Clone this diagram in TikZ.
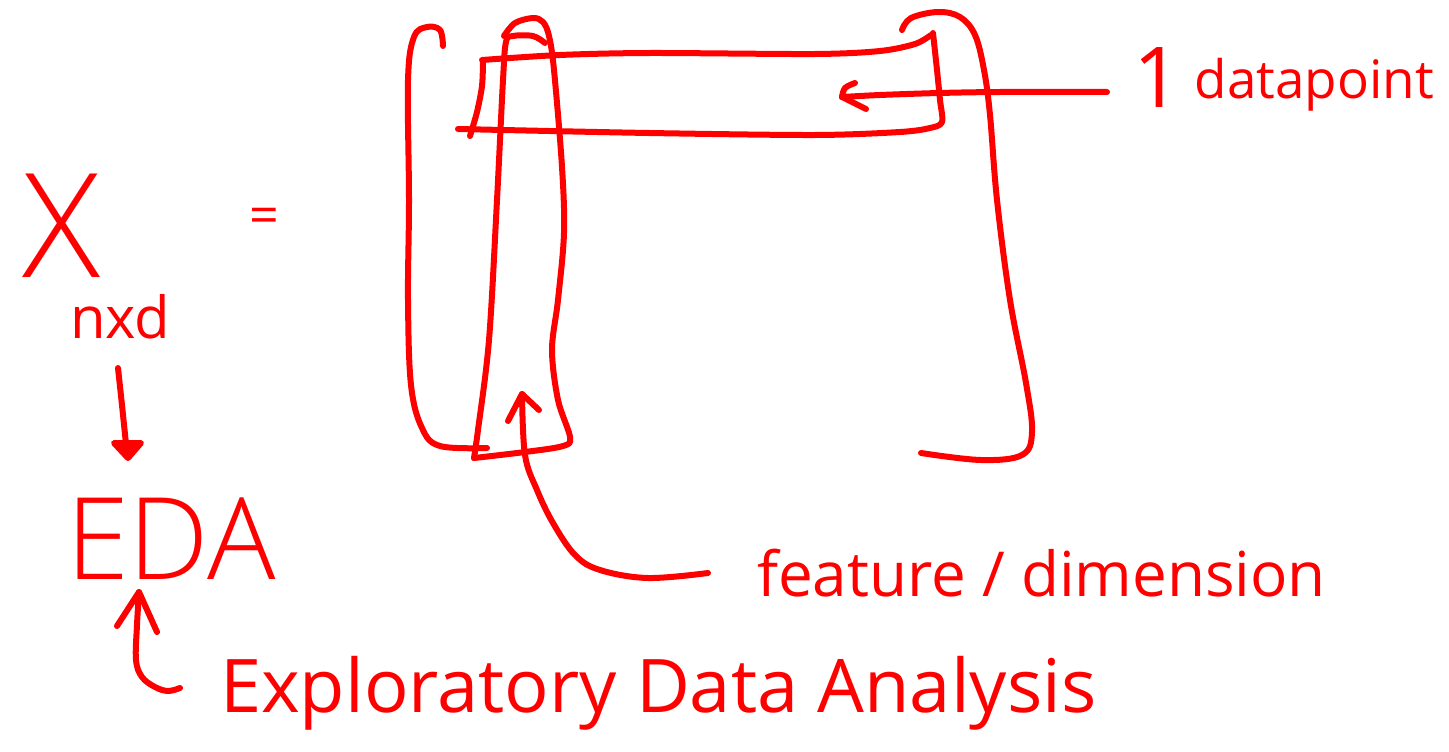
\documentclass[tikz,border=0pt]{standalone}
\usepackage{fontspec}
\setmainfont{Open Sans}
\newfontfamily\thinhand{Open Sans}[UprightFont={* Light}]
\definecolor{pen}{RGB}{255,0,0}
\begin{document}
\begin{tikzpicture}[x=1pt,y=-1pt,
  ink/.style={draw=pen, line width=6pt, line cap=round, line join=round},
  label/.style={text=pen, inner sep=0pt, outer sep=0pt, anchor=base west}]
\useasboundingbox (0,0) rectangle (1449,752);

% ---- matrix symbol and the arrow to EDA ----
\node[label] (xmat) at (22,277) {\thinhand\fontsize{145}{145}\selectfont X};
\node[label] (nxd) at (70,338) {\fontsize{58}{58}\selectfont nxd};
\node[text=pen, inner sep=0pt] (eq) at (264,221) {\fontsize{52}{52}\selectfont =};
\node[label] (eda) at (66,579) {\thinhand\fontsize{114}{114}\selectfont EDA};
\coordinate (edaTail) at (118,368);
\coordinate (edaTip) at (128,458);
\draw[ink] (edaTail) .. controls (122,405) .. (126,444);
\filldraw[ink, fill=pen] (114,443) -- (141,443) -- (edaTip) -- cycle;

% ---- "Exploratory Data Analysis" and its curved arrow ----
\node[label] (expl) at (220,712) {\fontsize{74}{74}\selectfont Exploratory Data Analysis};
\coordinate (cTip) at (139,592);
\coordinate (cTail) at (180,688);
\draw[ink] plot[smooth, tension=0.6] coordinates
  {(cTip) (137,625) (136,660) (142,677) (155,687) (168,691) (cTail)};
\draw[ink] (117,626) -- (cTip) -- (157,632);

% ---- left bracket ----
\draw[ink] plot[smooth, tension=0.6] coordinates
  {(443,46) (440,30) (427,27) (414,37) (408,80) (409,200) (408,300)
   (411,385) (422,428) (440,446) (487,448)};

% ---- right bracket ----
\draw[ink] plot[smooth, tension=0.6] coordinates
  {(902,30) (911,18) (938,12) (960,17) (975,35) (984,70) (990,115)
   (997,200) (1010,300) (1026,383) (1032,432) (1022,455) (981,460) (921,453)};

% ---- one column (feature) ----
\draw[ink] plot[smooth, tension=0.55] coordinates
  {(504,36) (515,23) (533,18) (543,22) (549,36) (554,70) (562,167)
   (564,233) (558,300) (552,350) (558,400) (570,437) (563,446)
   (525,452) (474,458)};
\draw[ink] plot[smooth, tension=0.55] coordinates
  {(474,458) (478,430) (489,340) (497,200) (503,80) (506,42)
   (513,36) (533,36) (545,43)};

% ---- one row (datapoint) ----
\draw[ink] plot[smooth, tension=0.5] coordinates
  {(470,136) (477,112) (482,86) (483,62)};
\draw[ink] plot[smooth, tension=0.5] coordinates
  {(482,60) (560,55) (650,53) (815,54) (880,51) (915,44) (931,35)};
\draw[ink] plot[smooth, tension=0.5] coordinates
  {(933,33) (937,70) (940,100) (942,122) (930,128) (900,132)
   (815,135) (649,133) (458,129)};

% ---- "1 datapoint" label and arrow ----
\node[label] (dp) at (1133,99)
  {\fontsize{53}{55}\selectfont \raisebox{-9pt}{\fontsize{84}{84}\selectfont 1} datapoint};
\coordinate (dpTail) at (1107,92);
\coordinate (dpTip) at (842,97);
\draw[ink] plot[smooth, tension=0.5] coordinates
  {(dpTail) (1000,92) (939,93) (880,95) (dpTip)};
\draw[ink] plot[smooth, tension=0.6] coordinates {(855,83) (845,88) (dpTip)};
\draw[ink] (dpTip) -- (866,109);

% ---- "feature / dimension" label and arrow ----
\node[label] (feat) at (757,596) {\fontsize{62}{64}\selectfont feature / dimension};
\coordinate (fTail) at (708,573);
\coordinate (fTip) at (522,394);
\draw[ink] plot[smooth, tension=0.6] coordinates
  {(fTail) (648,578) (600,570) (575,555) (553,523) (537,490) (525,455) (fTip)};
\draw[ink] (508,421) -- (fTip) -- (539,410);
\end{tikzpicture}
\end{document}
